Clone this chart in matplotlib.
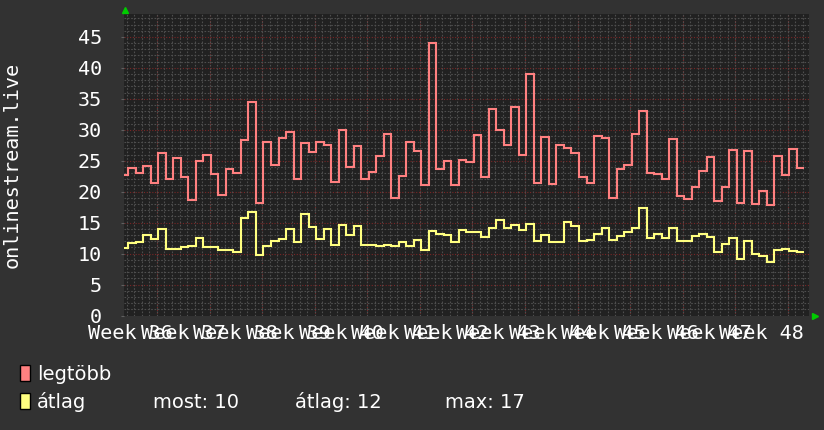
import numpy as np
import matplotlib.pyplot as plt
from matplotlib.patches import Rectangle
from matplotlib.ticker import MultipleLocator, FixedLocator

# one value per day, the first day starts 2.18 days after the start of week 36
legtobb = [22.7, 23.85, 23.0, 24.2, 21.4, 26.2, 22.0, 25.4, 22.4, 18.6, 24.9, 25.9, 22.8, 19.5, 23.7, 23.0,
           28.3, 34.5, 18.2, 28.0, 24.3, 28.7, 29.7, 22.1, 27.9, 26.4, 28.0, 27.6, 21.5, 29.9, 24.0,
           27.4, 22.1, 23.1, 25.8, 29.3, 18.9, 22.6, 28.0, 26.6, 21.1, 44.05, 23.7, 25.0, 21.1, 25.1, 24.8,
           29.1, 22.4, 33.4, 30.0, 27.5, 33.65, 25.9, 39.0, 21.4, 28.9, 21.2, 27.6, 27.0, 26.2, 22.4,
           21.4, 29.0, 28.7, 19.0, 23.7, 24.3, 29.3, 33.1, 23.0, 22.8, 22.0, 28.5, 19.3, 18.8, 20.8, 23.4,
           25.6, 18.5, 20.8, 26.8, 18.2, 26.6, 18.0, 20.1, 17.9, 25.8, 22.7, 26.9, 23.85]
atlag = [10.9, 11.7, 11.9, 13.0, 12.4, 14.0, 10.75, 10.75, 11.1, 11.2, 12.5, 11.0, 11.0, 10.5, 10.6, 10.3,
         15.8, 16.7, 9.7, 11.2, 12.0, 12.4, 14.0, 11.9, 16.4, 14.3, 12.4, 13.9, 11.35, 14.6, 13.0,
         14.4, 11.45, 11.4, 11.2, 11.4, 11.2, 11.9, 11.2, 12.2, 10.6, 13.6, 13.2, 13.0, 11.9, 13.8, 13.5,
         13.5, 12.7, 14.15, 15.4, 14.15, 14.6, 13.8, 14.7, 12.0, 13.0, 11.8, 11.8, 15.1, 14.4, 12.0,
         12.15, 13.2, 14.2, 12.15, 12.8, 13.5, 14.1, 17.3, 12.5, 13.2, 12.5, 14.1, 12.0, 12.0, 12.85, 13.1,
         12.6, 10.3, 11.5, 12.5, 9.1, 12.0, 9.9, 9.6, 8.7, 10.5, 10.75, 10.4, 10.3]
first_day = 2.18
weeks = list(range(36, 49))
week_labels = ['Week %d' % w for w in weeks]
stats = ['most: 10', 'átlag: 12', 'max: 17']

W, H = 824, 430
BG = '#323232'
MONO = 'DejaVu Sans Mono'
NARROW = ['Liberation Sans Narrow', 'DejaVu Sans']

fig = plt.figure(figsize=(W / 100, H / 100), dpi=100, facecolor=BG)
ax = fig.add_axes([124 / W, 1 - 315.5 / H, (809 - 124) / W, (315.5 - 14) / H])
ax.set_facecolor('#212121')
for s in ax.spines.values():
    s.set_visible(False)

ax.set_xlim(2.61, 93.8)
ax.set_ylim(0, 48.7)

# grid
ax.xaxis.set_minor_locator(MultipleLocator(1))
ax.yaxis.set_minor_locator(MultipleLocator(1))
ax.grid(True, which='minor', color='#4e4e4e', lw=0.8, ls=(0, (1.5, 1.5)))
for d in range(7, 95, 7):
    ax.axvline(d, color='#7a2626', lw=0.8, ls=(0, (1, 1.5)), zorder=1)
for v in range(5, 50, 5):
    ax.axhline(v, color='#7a2626', lw=0.8, ls=(0, (1, 1.5)), zorder=1)

edges = first_day + np.arange(len(legtobb) + 1)
ax.stairs(legtobb, edges, color='#ff8080', lw=1.5, baseline=None, zorder=3)
ax.stairs(atlag, edges, color='#ffff80', lw=1.5, baseline=None, zorder=3)

# ticks
ax.xaxis.set_major_locator(FixedLocator([3.5 + 7 * i for i in range(len(weeks))]))
ax.set_xticklabels(week_labels)
ax.yaxis.set_major_locator(MultipleLocator(5))
ax.tick_params(axis='x', which='major', length=0, pad=6, labelsize=14.5, labelcolor='white')
ax.tick_params(axis='y', which='major', length=2, color='#606060', pad=14, labelsize=14.5,
               labelcolor='white')
ax.tick_params(which='minor', length=0)
for lab in ax.get_xticklabels() + ax.get_yticklabels():
    lab.set_family(MONO)

# green arrows at the axis ends
ax.plot([0.001], [1.013], marker='^', color='#00cc00', ms=5, transform=ax.transAxes, clip_on=False)
ax.plot([1.009], [0.0], marker='>', color='#00cc00', ms=5, transform=ax.transAxes, clip_on=False)

fig.text(12 / W, 1 - 165 / H, 'onlinestream.live', rotation=90, ha='center', va='center',
         color='white', fontsize=14.5, family=MONO)

# legend
fig.patches.append(Rectangle((20 / W, 1 - 381 / H), 10 / W, 16 / H, fc='#ff8080', ec='black',
                             lw=1, transform=fig.transFigure))
fig.patches.append(Rectangle((20 / W, 1 - 409 / H), 10 / W, 16 / H, fc='#ffff80', ec='black',
                             lw=1, transform=fig.transFigure))
fig.text(37 / W, 1 - 374 / H, 'legtöbb', ha='left', va='center', color='white', fontsize=14,
         family=NARROW)
fig.text(37 / W, 1 - 402 / H, 'átlag', ha='left', va='center', color='white', fontsize=14,
         family=NARROW)
for x, s in zip([153, 295, 445], stats):
    fig.text(x / W, 1 - 402 / H, s, ha='left', va='center', color='white', fontsize=14,
             family=NARROW)

fig.savefig('out.png', dpi=100, facecolor=BG)
